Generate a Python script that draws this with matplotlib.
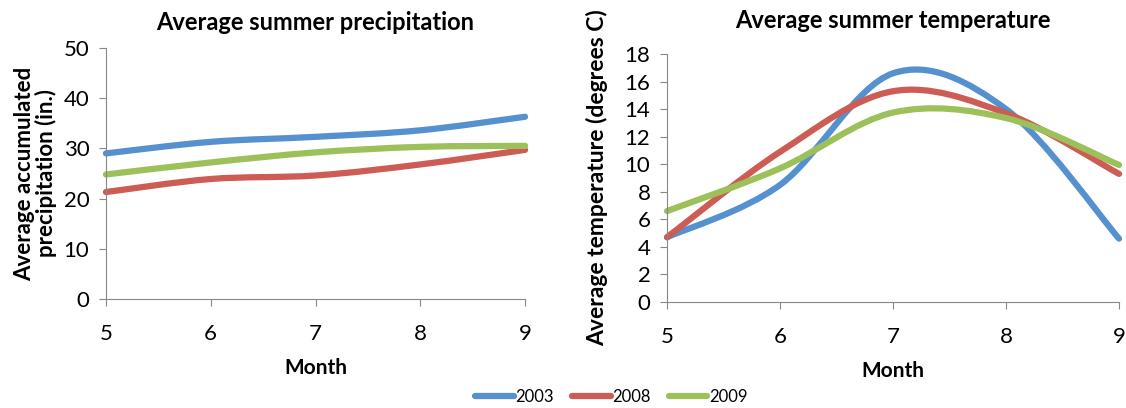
import numpy as np
import matplotlib
matplotlib.use('Agg')
import matplotlib.pyplot as plt
from matplotlib.path import Path
from matplotlib.patches import PathPatch
from matplotlib.lines import Line2D

plt.rcParams['font.family'] = ['Lato', 'DejaVu Sans']

months = [5, 6, 7, 8, 9]
years = ['2003', '2008', '2009']
colors = ['#5590CF', '#CD5C55', '#9CC15A']

# Average accumulated precipitation (in.)
precip_2003 = [29.0, 31.3, 32.3, 33.6, 36.3]
precip_2008 = [21.3, 23.9, 24.6, 26.8, 29.7]
precip_2009 = [24.8, 27.2, 29.2, 30.3, 30.5]

# Average temperature (degrees C)
temp_2003 = [4.7, 8.5, 16.6, 14.0, 4.6]
temp_2008 = [4.7, 10.9, 15.3, 13.7, 9.3]
temp_2009 = [6.6, 9.7, 13.75, 13.35, 9.95]


def smooth_path(x, y):
    # Excel-style smoothed line: cubic Bezier through each point
    p = np.column_stack([x, y]).astype(float)
    n = len(p)
    verts = [p[0]]
    codes = [Path.MOVETO]
    for i in range(n - 1):
        p0 = p[i - 1] if i > 0 else p[i]
        p3 = p[i + 2] if i + 2 < n else p[i + 1]
        c1 = p[i] + (p[i + 1] - p0) / 6.0
        c2 = p[i + 1] - (p3 - p[i]) / 6.0
        verts += [c1, c2, p[i + 1]]
        codes += [Path.CURVE4] * 3
    return Path(verts, codes)


def style_axes(ax, ymax, ystep):
    for s in ['top', 'right']:
        ax.spines[s].set_visible(False)
    for s in ['left', 'bottom']:
        ax.spines[s].set_color('#888888')
        ax.spines[s].set_linewidth(0.8)
    ax.set_xlim(5, 9)
    ax.set_ylim(0, ymax)
    ax.set_xticks(months)
    ax.set_yticks(np.arange(0, ymax + 1, ystep))
    ax.tick_params(axis='both', direction='out', length=5, color='#888888',
                   labelsize=16)
    ax.tick_params(axis='x', pad=13)
    ax.tick_params(axis='y', pad=7)


fig = plt.figure(figsize=(11.26, 4.08), dpi=100)

ax1 = fig.add_axes([0.0941, 0.2672, 0.3722, 0.6152])
for vals, c in zip([precip_2003, precip_2008, precip_2009], colors):
    ax1.add_patch(PathPatch(smooth_path(months, vals), fill=False, ec=c,
                            lw=4.5, capstyle='round', clip_on=False))
style_axes(ax1, 50, 10)
ax1.set_title('Average summer precipitation', fontsize=17, fontweight='bold', pad=13)
ax1.set_xlabel('Month', fontsize=15, fontweight='bold', labelpad=10)
ax1.set_ylabel('Average accumulated\nprecipitation (in.)', fontsize=16,
               fontweight='bold', labelpad=5, linespacing=0.95)

ax2 = fig.add_axes([0.5924, 0.2598, 0.4014, 0.6078])
for vals, c in zip([temp_2003, temp_2008, temp_2009], colors):
    ax2.add_patch(PathPatch(smooth_path(months, vals), fill=False, ec=c,
                            lw=4.5, capstyle='round', clip_on=False))
style_axes(ax2, 18, 2)
ax2.set_title('Average summer temperature', fontsize=17, fontweight='bold', pad=19)
ax2.set_xlabel('Month', fontsize=15, fontweight='bold', labelpad=10)
ax2.set_ylabel('Average temperature (degrees C)', fontsize=16.5,
               fontweight='bold', labelpad=12)

handles = [Line2D([], [], color=c, lw=4.5, solid_capstyle='round') for c in colors]
fig.legend(handles, years, loc='lower center', bbox_to_anchor=(0.543, -0.03),
           ncol=3, frameon=False, fontsize=12, handlelength=2.3,
           handletextpad=0.1, columnspacing=1.1)

fig.savefig('out.png', dpi=100)
